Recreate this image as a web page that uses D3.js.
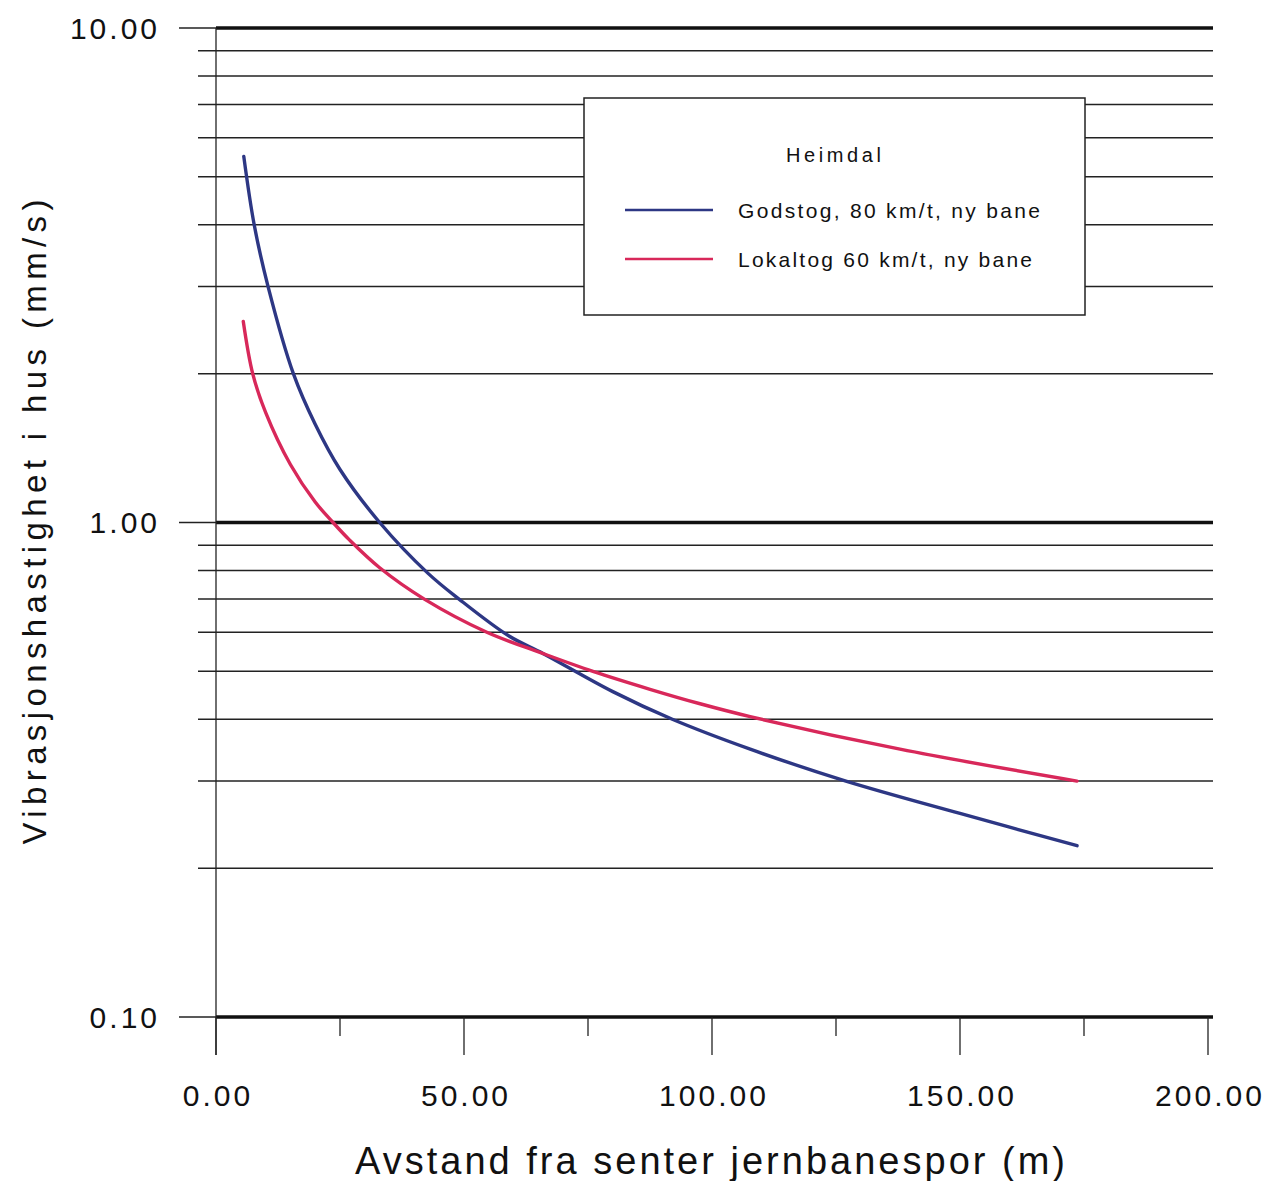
<!DOCTYPE html>
<html>
<head>
<meta charset="utf-8">
<script src="https://cdn.jsdelivr.net/npm/d3@7"></script>
<style>
  body { margin: 0; background: #fff; }
  svg { display: block; font-family: "Liberation Sans", Arial, sans-serif; }
</style>
</head>
<body>
<svg id="chart"></svg>
<script>
// values
const godstogDist = [5.6, 7.7, 10.5, 15.6, 20, 25, 33, 42.7, 49, 59, 66, 80, 92, 107.7, 127, 150, 173.6];
const godstogVel  = [5.5, 4.0, 3.0, 2.0, 1.58, 1.28, 1.0, 0.79, 0.7, 0.59, 0.543, 0.455, 0.4, 0.348, 0.3, 0.258, 0.222];

const lokalDist = [5.5, 7.4, 10, 15, 20, 23.6, 27, 33, 42, 54.6, 66, 76, 87.5, 97.6, 107.7, 137.9, 173.6];
const lokalVel  = [2.55, 2.0, 1.67, 1.31, 1.1, 1.0, 0.92, 0.81, 0.7, 0.6, 0.543, 0.5, 0.46, 0.43, 0.405, 0.348, 0.3];

const xMajor = [0, 50, 100, 150, 200];
const xMinor = [25, 75, 125, 175];
const yMajor = [0.1, 1, 10];
const yMinor = [0.2, 0.3, 0.4, 0.5, 0.6, 0.7, 0.8, 0.9, 2, 3, 4, 5, 6, 7, 8, 9];

const seriesNames = ["Godstog, 80 km/t, ny bane", "Lokaltog 60 km/t, ny bane"];
const seriesColors = ["#2d3784", "#d8285a"];

const W = 1268, H = 1181;
const svg = d3.select("#chart").attr("width", W).attr("height", H);

const x = d3.scaleLinear().domain([0, 200]).range([216, 1208]);
const y = d3.scaleLog().domain([0.1, 10]).range([1017, 28]);
const gridRight = 1213;

// horizontal grid lines (minor thin, decades thick)
svg.append("g").selectAll("line")
  .data(yMinor)
  .join("line")
  .attr("x1", 198).attr("x2", gridRight)
  .attr("y1", d => y(d)).attr("y2", d => y(d))
  .attr("stroke", "#222").attr("stroke-width", 1.5);

svg.append("g").selectAll("line")
  .data(yMajor)
  .join("line")
  .attr("x1", 179).attr("x2", x(0))
  .attr("y1", d => y(d)).attr("y2", d => y(d))
  .attr("stroke", "#222").attr("stroke-width", 1.4);

svg.append("g").selectAll("line")
  .data(yMajor)
  .join("line")
  .attr("x1", x(0)).attr("x2", gridRight)
  .attr("y1", d => y(d)).attr("y2", d => y(d))
  .attr("stroke", "#111").attr("stroke-width", 3.5);

// y axis line
svg.append("line")
  .attr("x1", x(0)).attr("x2", x(0))
  .attr("y1", y(10)).attr("y2", y(0.1) + 38)
  .attr("stroke", "#222").attr("stroke-width", 1.3);

// x ticks
svg.append("g").selectAll("line")
  .data(xMajor)
  .join("line")
  .attr("x1", d => x(d)).attr("x2", d => x(d))
  .attr("y1", y(0.1)).attr("y2", y(0.1) + 38)
  .attr("stroke", "#222").attr("stroke-width", 1.3);

svg.append("g").selectAll("line")
  .data(xMinor)
  .join("line")
  .attr("x1", d => x(d)).attr("x2", d => x(d))
  .attr("y1", y(0.1)).attr("y2", y(0.1) + 19)
  .attr("stroke", "#222").attr("stroke-width", 1.3);

// tick labels
svg.append("g").selectAll("text")
  .data(yMajor)
  .join("text")
  .attr("x", 160)
  .attr("y", d => y(d))
  .attr("dy", "0.36em")
  .attr("text-anchor", "end")
  .attr("font-size", 30)
  .attr("letter-spacing", 3)
  .attr("fill", "#111")
  .text(d => d3.format(".2f")(d));

svg.append("g").selectAll("text")
  .data(xMajor)
  .join("text")
  .attr("x", d => x(d) + 2)
  .attr("y", 1106)
  .attr("text-anchor", "middle")
  .attr("font-size", 30)
  .attr("letter-spacing", 3)
  .attr("fill", "#111")
  .text(d => d3.format(".2f")(d));

// axis titles
svg.append("text")
  .attr("x", 355).attr("y", 1174)
  .attr("font-size", 38)
  .attr("textLength", 710)
  .attr("lengthAdjust", "spacing")
  .attr("fill", "#111")
  .text("Avstand fra senter jernbanespor (m)");

svg.append("text")
  .attr("transform", "translate(46, 522) rotate(-90)")
  .attr("text-anchor", "middle")
  .attr("font-size", 33)
  .attr("textLength", 645)
  .attr("lengthAdjust", "spacing")
  .attr("fill", "#111")
  .text("Vibrasjonshastighet i hus (mm/s)");

// curves
const series = [
  godstogDist.map((d, i) => [d, godstogVel[i]]),
  lokalDist.map((d, i) => [d, lokalVel[i]])
];

const line = d3.line()
  .x(d => x(d[0]))
  .y(d => y(d[1]))
  .curve(d3.curveCatmullRom.alpha(0.5));

svg.append("g").selectAll("path")
  .data(series)
  .join("path")
  .attr("d", line)
  .attr("fill", "none")
  .attr("stroke", (d, i) => seriesColors[i])
  .attr("stroke-width", 3.4)
  .attr("stroke-linecap", "round");

// legend
const lg = svg.append("g");
lg.append("rect")
  .attr("x", 584).attr("y", 98)
  .attr("width", 501).attr("height", 217)
  .attr("fill", "#fff")
  .attr("stroke", "#222").attr("stroke-width", 1.5);

lg.append("text")
  .attr("x", 786).attr("y", 162)
  .attr("font-size", 20)
  .attr("textLength", 95)
  .attr("lengthAdjust", "spacing")
  .attr("fill", "#111")
  .text("Heimdal");

const textLens = [302, 294];
seriesNames.forEach((name, i) => {
  const ly = 210 + i * 49;
  lg.append("line")
    .attr("x1", 625).attr("x2", 713)
    .attr("y1", ly).attr("y2", ly)
    .attr("stroke", seriesColors[i]).attr("stroke-width", 2.5);
  lg.append("text")
    .attr("x", 738).attr("y", ly + 8)
    .attr("font-size", 21)
    .attr("textLength", textLens[i])
    .attr("lengthAdjust", "spacing")
    .attr("fill", "#111")
    .text(name);
});
</script>
</body>
</html>
